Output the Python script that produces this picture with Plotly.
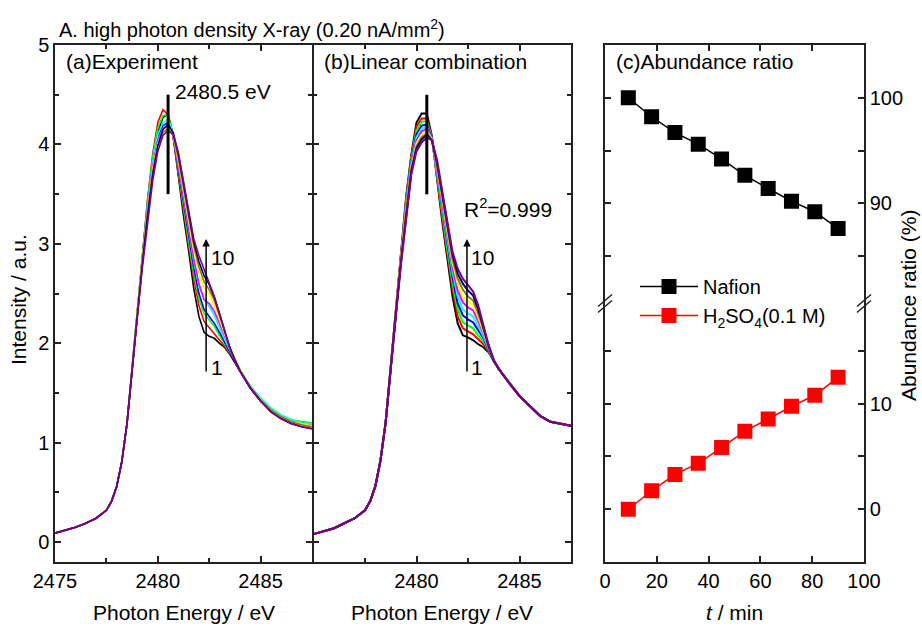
import plotly.graph_objects as go

# ---------------- data ----------------
colors = ['#000000', '#FF0000', '#00FF00', '#0000FF', '#00FFFF',
          '#FF00FF', '#FFFF00', '#808000', '#000080', '#800080']

energy_pre = [2475.0, 2475.5, 2476.0, 2476.5, 2477.0, 2477.5, 2477.75,
              2478.0, 2478.25, 2478.5, 2478.75]
energy_main = [2479.0, 2479.25, 2479.5, 2479.75, 2480.0, 2480.25, 2480.5,
               2480.75, 2481.0, 2481.25, 2481.5, 2481.75, 2482.0, 2482.25,
               2482.5, 2482.75, 2483.0, 2483.25, 2483.5, 2483.75, 2484.0,
               2484.5, 2485.0, 2485.5, 2486.0, 2486.5, 2487.0, 2487.5]

pre_edge_exp = [0.09, 0.12, 0.15, 0.19, 0.24, 0.32, 0.41, 0.56, 0.81, 1.19, 1.75]
pre_edge_fit = [0.08, 0.11, 0.14, 0.19, 0.24, 0.32, 0.41, 0.56, 0.82, 1.20, 1.77]

exp_1 = [2.36, 2.92, 3.42, 3.85, 4.12, 4.27, 4.31, 4.08, 3.66, 3.28, 2.93, 2.55, 2.27, 2.11, 2.07, 2.05, 2.00, 1.96, 1.89, 1.81, 1.72, 1.55, 1.42, 1.33, 1.27, 1.22, 1.21, 1.19]
exp_2 = [2.35, 2.92, 3.44, 3.90, 4.22, 4.35, 4.30, 4.07, 3.70, 3.32, 2.98, 2.65, 2.38, 2.22, 2.16, 2.10, 2.04, 1.97, 1.90, 1.82, 1.72, 1.56, 1.42, 1.32, 1.26, 1.21, 1.19, 1.17]
exp_3 = [2.34, 2.90, 3.42, 3.87, 4.17, 4.29, 4.30, 4.09, 3.72, 3.36, 3.02, 2.70, 2.45, 2.30, 2.24, 2.17, 2.08, 1.99, 1.91, 1.83, 1.73, 1.57, 1.44, 1.34, 1.27, 1.23, 1.21, 1.20]
exp_4 = [2.33, 2.88, 3.38, 3.82, 4.08, 4.19, 4.22, 4.08, 3.74, 3.40, 3.07, 2.76, 2.50, 2.34, 2.27, 2.20, 2.11, 2.01, 1.91, 1.82, 1.72, 1.55, 1.42, 1.32, 1.26, 1.21, 1.19, 1.17]
exp_5 = [2.32, 2.88, 3.39, 3.83, 4.10, 4.22, 4.25, 4.11, 3.79, 3.45, 3.12, 2.82, 2.58, 2.44, 2.37, 2.28, 2.16, 2.04, 1.93, 1.83, 1.73, 1.57, 1.45, 1.35, 1.28, 1.23, 1.20, 1.19]
exp_6 = [2.31, 2.85, 3.35, 3.78, 4.04, 4.16, 4.19, 4.09, 3.80, 3.48, 3.15, 2.85, 2.60, 2.44, 2.40, 2.32, 2.20, 2.07, 1.94, 1.83, 1.72, 1.55, 1.42, 1.32, 1.25, 1.20, 1.18, 1.16]
exp_7 = [2.30, 2.84, 3.33, 3.75, 4.01, 4.14, 4.17, 4.09, 3.83, 3.53, 3.22, 2.93, 2.70, 2.56, 2.49, 2.38, 2.24, 2.09, 1.95, 1.84, 1.73, 1.56, 1.43, 1.33, 1.26, 1.21, 1.19, 1.17]
exp_8 = [2.29, 2.82, 3.30, 3.72, 3.98, 4.12, 4.16, 4.09, 3.86, 3.57, 3.27, 2.98, 2.77, 2.62, 2.54, 2.43, 2.28, 2.12, 1.96, 1.84, 1.73, 1.56, 1.43, 1.33, 1.26, 1.21, 1.18, 1.16]
exp_9 = [2.28, 2.80, 3.28, 3.69, 3.99, 4.15, 4.20, 4.12, 3.90, 3.60, 3.30, 3.02, 2.82, 2.68, 2.59, 2.46, 2.30, 2.13, 1.96, 1.83, 1.72, 1.55, 1.42, 1.31, 1.24, 1.19, 1.16, 1.14]
exp_10 = [2.26, 2.76, 3.22, 3.63, 3.93, 4.09, 4.14, 4.10, 3.92, 3.63, 3.35, 3.05, 2.88, 2.75, 2.62, 2.47, 2.30, 2.12, 1.95, 1.83, 1.72, 1.55, 1.42, 1.31, 1.24, 1.19, 1.16, 1.14]

fit_1 = [2.38, 2.95, 3.48, 3.90, 4.22, 4.31, 4.31, 4.08, 3.62, 3.22, 2.85, 2.47, 2.20, 2.08, 2.06, 2.03, 1.99, 1.96, 1.91, 1.82, 1.74, 1.60, 1.47, 1.37, 1.27, 1.21, 1.19, 1.17]
fit_2 = [2.37, 2.94, 3.46, 3.88, 4.18, 4.26, 4.26, 4.07, 3.65, 3.26, 2.90, 2.54, 2.27, 2.15, 2.12, 2.09, 2.04, 1.99, 1.92, 1.82, 1.74, 1.60, 1.47, 1.37, 1.27, 1.21, 1.19, 1.17]
fit_3 = [2.36, 2.93, 3.44, 3.86, 4.14, 4.23, 4.23, 4.06, 3.67, 3.30, 2.94, 2.60, 2.34, 2.21, 2.18, 2.15, 2.08, 2.02, 1.93, 1.82, 1.74, 1.60, 1.47, 1.37, 1.27, 1.21, 1.19, 1.17]
fit_4 = [2.35, 2.91, 3.42, 3.84, 4.10, 4.19, 4.20, 4.06, 3.70, 3.33, 2.98, 2.66, 2.40, 2.28, 2.24, 2.21, 2.13, 2.05, 1.94, 1.82, 1.74, 1.60, 1.47, 1.37, 1.27, 1.21, 1.19, 1.17]
fit_5 = [2.34, 2.90, 3.40, 3.82, 4.07, 4.16, 4.18, 4.05, 3.72, 3.37, 3.03, 2.71, 2.47, 2.34, 2.30, 2.27, 2.17, 2.07, 1.95, 1.83, 1.74, 1.60, 1.47, 1.37, 1.27, 1.21, 1.19, 1.17]
fit_6 = [2.33, 2.88, 3.38, 3.80, 4.04, 4.13, 4.16, 4.05, 3.74, 3.41, 3.07, 2.76, 2.53, 2.41, 2.36, 2.33, 2.22, 2.10, 1.96, 1.83, 1.74, 1.60, 1.47, 1.37, 1.27, 1.21, 1.19, 1.17]
fit_7 = [2.32, 2.86, 3.35, 3.77, 4.01, 4.10, 4.13, 4.05, 3.77, 3.44, 3.11, 2.81, 2.60, 2.47, 2.42, 2.38, 2.26, 2.12, 1.96, 1.83, 1.74, 1.60, 1.47, 1.37, 1.27, 1.21, 1.19, 1.17]
fit_8 = [2.31, 2.84, 3.33, 3.75, 3.98, 4.07, 4.11, 4.04, 3.79, 3.48, 3.15, 2.85, 2.65, 2.54, 2.47, 2.43, 2.30, 2.14, 1.97, 1.83, 1.74, 1.60, 1.47, 1.37, 1.27, 1.21, 1.19, 1.17]
fit_9 = [2.30, 2.82, 3.31, 3.73, 3.96, 4.05, 4.10, 4.04, 3.81, 3.51, 3.18, 2.89, 2.70, 2.60, 2.53, 2.48, 2.34, 2.16, 1.97, 1.83, 1.74, 1.60, 1.47, 1.37, 1.27, 1.21, 1.19, 1.17]
fit_10 = [2.28, 2.80, 3.28, 3.70, 3.93, 4.02, 4.07, 4.04, 3.84, 3.55, 3.22, 2.92, 2.75, 2.65, 2.58, 2.52, 2.38, 2.18, 1.98, 1.83, 1.74, 1.60, 1.47, 1.37, 1.27, 1.21, 1.19, 1.17]

exp_curves = [exp_1, exp_2, exp_3, exp_4, exp_5, exp_6, exp_7, exp_8, exp_9, exp_10]
fit_curves = [fit_1, fit_2, fit_3, fit_4, fit_5, fit_6, fit_7, fit_8, fit_9, fit_10]

time_min = [9, 18, 27, 36, 45, 54, 63, 72, 81, 90]
nafion = [100.0, 98.2, 96.7, 95.6, 94.2, 92.65, 91.4, 90.2, 89.2, 87.6]
h2so4 = [0.0, 1.75, 3.3, 4.35, 5.85, 7.4, 8.55, 9.75, 10.8, 12.5]

peak_energy = 2480.5
peak_line_span = [3.5, 4.5]
arrow_energy_exp = 2482.35
arrow_energy_fit = 2482.45
arrow_span = [1.70, 3.05]

x_ticks_a = [2475, 2480, 2485]
x_ticks_b = [2480, 2485]
x_minor = [2477.5, 2482.5, 2487.5]
y_ticks = [0, 1, 2, 3, 4, 5]
y_minor = [0.5, 1.5, 2.5, 3.5, 4.5]
t_ticks = [0, 20, 40, 60, 80, 100]

# ---------------- figure ----------------
FONT = 'Liberation Sans, Arial, sans-serif'
W, H = 922, 627
ML, MR, MT, MB = 55, 58, 45, 65
PW = W - ML - MR
PH = H - MT - MB


def px_x(p):
    return (p - ML) / PW


def px_y(p):
    return (H - MB - p) / PH


fig = go.Figure()

for i in range(10):
    fig.add_trace(go.Scatter(x=energy_pre + energy_main, y=pre_edge_exp + exp_curves[i],
                             mode='lines', line=dict(color=colors[i], width=1.6),
                             xaxis='x', yaxis='y', showlegend=False))
for i in range(10):
    fig.add_trace(go.Scatter(x=energy_pre + energy_main, y=pre_edge_fit + fit_curves[i],
                             mode='lines', line=dict(color=colors[i], width=2),
                             xaxis='x2', yaxis='y2', showlegend=False))

fig.add_trace(go.Scatter(x=time_min, y=nafion, mode='lines+markers', name='Nafion',
                         line=dict(color='black', width=1.5),
                         marker=dict(symbol='square', size=15, color='black'),
                         xaxis='x4', yaxis='y4'))
fig.add_trace(go.Scatter(x=time_min, y=h2so4, mode='lines+markers',
                         name='H<sub>2</sub>SO<sub>4</sub>(0.1 M)',
                         line=dict(color='#ff0000', width=1.5),
                         marker=dict(symbol='square', size=15, color='#ff0000'),
                         xaxis='x3', yaxis='y3'))

d_a = [0, px_x(312)]
d_b = [px_x(313.5), px_x(571)]
d_c = [px_x(605), 1]

LC = '#222222'
common_ax = dict(showline=True, linecolor=LC, linewidth=1.5, ticks='inside',
                 tickcolor=LC, tickwidth=1.5, ticklen=6, showgrid=False,
                 zeroline=False, tickfont=dict(size=20, color='black', family=FONT))
minor_e = dict(tickvals=x_minor, ticks='inside', ticklen=4, tickcolor=LC)
minor_i = dict(tickvals=y_minor, ticks='inside', ticklen=4, tickcolor=LC)

fig.update_layout(
    width=W, height=H, autosize=False,
    margin=dict(l=ML, r=MR, t=MT, b=MB),
    paper_bgcolor='white', plot_bgcolor='white',
    font=dict(family=FONT, size=20, color='black'),
    xaxis=dict(domain=d_a, range=[2475, 2487.5], tickvals=x_ticks_a, anchor='y',
               mirror='allticks', minor=minor_e, **common_ax),
    yaxis=dict(domain=[0, 1], range=[-0.2, 5], tickvals=y_ticks, anchor='x',
               mirror='allticks', minor=minor_i, **common_ax),
    xaxis2=dict(domain=d_b, range=[2475, 2487.5], tickvals=x_ticks_b, anchor='y2',
                mirror='allticks', minor=minor_e, **common_ax),
    yaxis2=dict(domain=[0, 1], range=[-0.2, 5], tickvals=y_ticks, anchor='x2',
                mirror='allticks', showticklabels=False, minor=minor_i, **common_ax),
    xaxis3=dict(domain=d_c, range=[0, 100], tickvals=t_ticks, anchor='y3', **common_ax),
    xaxis4=dict(domain=d_c, range=[0, 100], tickvals=t_ticks, anchor='y4', side='top',
                matches='x3', showticklabels=False, **common_ax),
    yaxis3=dict(domain=[0, 0.5], range=[-5, 19.5], tickvals=[0, 10], anchor='x3',
                side='right', mirror='allticks',
                minor=dict(tickvals=[5, 15], ticks='inside', ticklen=6, tickcolor=LC),
                **common_ax),
    yaxis4=dict(domain=[0.5, 1], range=[80.5, 105], tickvals=[90, 100], anchor='x4',
                side='right', mirror='allticks',
                minor=dict(tickvals=[85, 95], ticks='inside', ticklen=6, tickcolor=LC),
                **common_ax),
    legend=dict(x=px_x(635), y=px_y(267), xanchor='left', yanchor='top',
                bgcolor='rgba(0,0,0,0)', font=dict(size=20, family=FONT),
                itemwidth=58, tracegroupgap=0),
)

# peak markers and arrows
for xr, yr in (('x', 'y'), ('x2', 'y2')):
    fig.add_shape(type='line', xref=xr, yref=yr, x0=peak_energy, x1=peak_energy,
                  y0=peak_line_span[0], y1=peak_line_span[1],
                  line=dict(color='black', width=3))

for xr, yr, xa in (('x', 'y', arrow_energy_exp), ('x2', 'y2', arrow_energy_fit)):
    fig.add_annotation(xref=xr, yref=yr, axref=xr, ayref=yr,
                       x=xa, y=arrow_span[1], ax=xa, ay=arrow_span[0],
                       showarrow=True, arrowhead=2, arrowsize=1, arrowwidth=1.5,
                       arrowcolor='black', text='')
    fig.add_annotation(xref=xr, yref=yr, x=xa + 0.12, y=2.86, text='10',
                       showarrow=False, xanchor='left', yanchor='middle',
                       font=dict(size=21, family=FONT))
    fig.add_annotation(xref=xr, yref=yr, x=xa + 0.12, y=1.76, text='1',
                       showarrow=False, xanchor='left', yanchor='middle',
                       font=dict(size=21, family=FONT))

fig.add_annotation(xref='x', yref='y', x=2480.75, y=4.53, text='2480.5 eV',
                   showarrow=False, xanchor='left', yanchor='middle',
                   font=dict(size=21, family=FONT))
fig.add_annotation(xref='x2', yref='y2', x=2482.2, y=3.36, text='R<sup>2</sup>=0.999',
                   showarrow=False, xanchor='left', yanchor='middle',
                   font=dict(size=21, family=FONT))


def ann_px(text, x, y, xanchor='left', angle=0, size=21):
    fig.add_annotation(xref='paper', yref='paper', x=px_x(x), y=px_y(y), text=text,
                       showarrow=False, xanchor=xanchor, yanchor='middle',
                       textangle=angle, font=dict(size=size, family=FONT, color='black'))


ann_px('A. high photon density X-ray (0.20 nA/mm<sup>2</sup>)', 57, 29, size=20)
ann_px('(a)Experiment', 64, 62)
ann_px('(b)Linear combination', 322, 62)
ann_px('(c)Abundance ratio', 614, 62)
ann_px('Intensity / a.u.', 18, 300, xanchor='center', angle=-90)
ann_px('Abundance ratio (%)', 908, 305, xanchor='center', angle=-90)
ann_px('Photon Energy / eV', (55 + 312) / 2, 612, xanchor='center')
ann_px('Photon Energy / eV', (313 + 571) / 2, 612, xanchor='center')
ann_px('<i>t</i> / min', (605 + 864) / 2, 612, xanchor='center')

# axis-break marks
for xb in (px_x(605), 1.0):
    for dy in (-3, 3):
        fig.add_shape(type='line', xref='paper', yref='paper',
                      xsizemode='pixel', ysizemode='pixel',
                      xanchor=xb, yanchor=0.5,
                      x0=-7, x1=7, y0=dy - 6, y1=dy + 6,
                      line=dict(color=LC, width=1.5))

fig.write_html('out.html',
               config={'displayModeBar': False},
               post_script="document.body.style.margin='0';"
                           "document.body.style.overflow='hidden';")
